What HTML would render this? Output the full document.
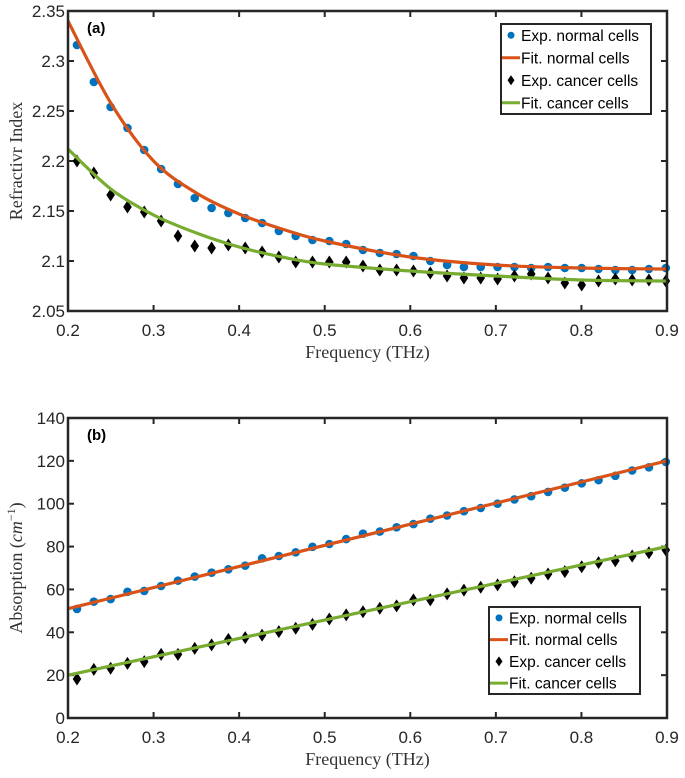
<!DOCTYPE html>
<html><head><meta charset="utf-8"><style>
body{margin:0;background:#fff;}
svg text{font-family:"Liberation Sans",Arial,sans-serif;}
.serif{font-family:"Liberation Serif","DejaVu Serif",serif !important;}
</style></head><body>
<svg id="chart" width="685" height="773" viewBox="0 0 685 773" xmlns="http://www.w3.org/2000/svg"></svg>
<script>
const freq = [];
const freqStart = 0.2105, freqStep = 0.01966;
for (let i = 0; i < 36; i++) freq.push(+(freqStart + i * freqStep).toFixed(4));
const riNormal = [2.316,2.279,2.254,2.233,2.211,2.192,2.177,2.163,2.153,2.148,2.143,2.138,2.130,2.125,2.121,2.120,
 2.117,2.111,2.108,2.107,2.105,2.100,2.096,2.094,2.094,2.094,2.094,2.093,2.094,2.093,2.093,2.092,2.091,2.091,2.092,2.093];
const riCancer = [2.200,2.188,2.166,2.154,2.149,2.140,2.125,2.115,2.113,2.116,2.113,2.109,2.104,2.099,2.099,2.099,
 2.099,2.095,2.091,2.091,2.090,2.088,2.085,2.083,2.083,2.082,2.085,2.087,2.083,2.078,2.076,2.080,2.082,2.081,2.081,2.080];
const absNormal = [50.9,54.3,55.5,58.9,59.3,61.6,64.1,66.0,67.8,69.4,71.1,74.5,75.6,77.3,79.9,81.2,
 83.5,86,87,89,90.5,93,94.5,96.5,98,100,102,103.5,105.5,107.5,109.5,111,113,115.5,117,119.5];
const absCancer = [18.2,22.7,23.2,25.5,26.3,29.7,29.7,32.5,34.1,36.7,37.5,38.7,40.3,41.9,43.7,46.2,
 48.1,49.6,51.2,52.3,55.1,55.1,57.9,59.7,61,62.1,63.6,65.2,67.2,68.3,70.6,72.5,73.4,75.6,77.1,78.4];
const fitFreq = [0.2,0.25,0.3,0.35,0.4,0.45,0.5,0.6,0.7,0.8,0.9];
const fitRiNormal = [2.340,2.258,2.200,2.168,2.147,2.132,2.120,2.104,2.096,2.093,2.092];
const fitRiCancer = [2.212,2.172,2.146,2.128,2.114,2.104,2.097,2.090,2.085,2.081,2.080];
const fitAbsFreq = [0.2,0.9];
const fitAbsNormal = [51.0,120.0];
const fitAbsCancer = [20.0,80.0];
const xTicks = [0.2,0.3,0.4,0.5,0.6,0.7,0.8,0.9];
const yTicksA = [2.05,2.1,2.15,2.2,2.25,2.3,2.35];
const yTicksB = [0,20,40,60,80,100,120,140];

const NS = 'http://www.w3.org/2000/svg';
const svg = document.getElementById('chart');
function mk(tag, attrs, parent) {
  const e = document.createElementNS(NS, tag);
  for (const k in attrs) e.setAttribute(k, attrs[k]);
  (parent || svg).appendChild(e);
  return e;
}
const L = 68, R = 667;
const xs = f => L + (f - 0.2) / 0.7 * (R - L);

function smoothPath(P) {
  if (P.length === 2) return `M${P[0][0]},${P[0][1]}L${P[1][0]},${P[1][1]}`;
  let d = `M${P[0][0].toFixed(2)},${P[0][1].toFixed(2)}`;
  for (let i = 0; i < P.length - 1; i++) {
    const p0 = P[Math.max(0, i - 1)], p1 = P[i], p2 = P[i + 1], p3 = P[Math.min(P.length - 1, i + 2)];
    const c1 = [p1[0] + (p2[0] - p0[0]) / 6, p1[1] + (p2[1] - p0[1]) / 6];
    const c2 = [p2[0] - (p3[0] - p1[0]) / 6, p2[1] - (p3[1] - p1[1]) / 6];
    d += `C${c1[0].toFixed(2)},${c1[1].toFixed(2)} ${c2[0].toFixed(2)},${c2[1].toFixed(2)} ${p2[0].toFixed(2)},${p2[1].toFixed(2)}`;
  }
  return d;
}

function panel(cfg) {
  const g = mk('g', {});
  
  
  const ys = v => cfg.bot - (v - cfg.ymin) / (cfg.ymax - cfg.ymin) * (cfg.bot - cfg.top);
  xTicks.forEach(t => {
    const x = xs(t);
    mk('line', {x1:x, x2:x, y1:cfg.bot, y2:cfg.bot-6, stroke:'#262626','stroke-width':2}, g);
    mk('line', {x1:x, x2:x, y1:cfg.top, y2:cfg.top+6, stroke:'#262626','stroke-width':2}, g);
    const tx = mk('text', {x:x, y:cfg.bot+25, 'text-anchor':'middle','font-size':17, fill:'#262626'}, g);
    tx.textContent = t.toFixed(1);
    
    
  });
  cfg.yTicks.forEach(t => {
    const y = ys(t);
    mk('line', {x1:L, x2:L+6, y1:y, y2:y, stroke:'#262626','stroke-width':2}, g);
    mk('line', {x1:R, x2:R-6, y1:y, y2:y, stroke:'#262626','stroke-width':2}, g);
    const tx = mk('text', {x:L-3, y:y+6, 'text-anchor':'end','font-size':17, fill:'#262626'}, g);
    tx.textContent = cfg.fmt(t);
    
    
  });
  function fitPath(fx, fy, color, name) {
    const P = fx.map((f, i) => [xs(f), ys(fy[i])]);
    const p = mk('path', {d:smoothPath(P), fill:'none', stroke:color, 'stroke-width':3.2}, g);
    
    
  }
  function pts(vals, kind, name) {
    const pg = mk('g', {}, g);
    
    
    vals.forEach((v, i) => {
      const x = xs(freq[i]), y = ys(v);
      let e;
      if (kind === 'dot') e = mk('circle', {cx:x, cy:y, r:4.3, fill:'#0072BD'}, pg);
      else e = mk('polygon', {points:`${x},${y-6.5} ${x+4.3},${y} ${x},${y+6.5} ${x-4.3},${y}`, fill:'#000'}, pg);
      
      
    });
  }
  pts(cfg.nVals, 'dot', 'exp-normal-points');
  fitPath(cfg.fitX, cfg.nFit, '#D95319', 'fit-normal-line');
  pts(cfg.cVals, 'diamond', 'exp-cancer-points');
  fitPath(cfg.fitX, cfg.cFit, '#77AC30', 'fit-cancer-line');
  mk('rect', {x:L, y:cfg.top, width:R-L, height:cfg.bot-cfg.top, fill:'none', stroke:'#262626','stroke-width':2.5}, g);
  const pl = mk('text', {x:87, y:cfg.top+22, 'font-size':15, 'font-weight':'bold', fill:'#000'}, g);
  pl.textContent = cfg.label;
  
  
  const xt = mk('text', {x:(L+R)/2, y:cfg.bot+47, 'text-anchor':'middle','font-size':18, fill:'#333', class:'serif'}, g);
  xt.textContent = 'Frequency (THz)';
  
  
  const yt = mk('text', {x:0, y:0, 'text-anchor':'middle','font-size':18, fill:'#333', class:'serif', transform:`translate(22,${(cfg.top+cfg.bot)/2}) rotate(-90)`}, g);
  if (cfg.yHtml) {
    const a = mk('tspan', {}, yt); a.textContent = 'Absorption (';
    const b = mk('tspan', {'font-style':'italic'}, yt); b.textContent = 'cm';
    const c = mk('tspan', {'font-size':12, dy:-7}, yt); c.textContent = '−1';
    const d = mk('tspan', {dy:7}, yt); d.textContent = ')';
  } else yt.textContent = cfg.yTitle;
  
  
  const lg = mk('g', {}, g);
  
  
  const [lx, ly, lw, lh] = cfg.legend;
  mk('rect', {x:lx, y:ly, width:lw, height:lh, fill:'#fff', stroke:'#262626','stroke-width':2}, lg);
  const items = [['dot','Exp. normal cells'],['line-n','Fit. normal cells'],['dia','Exp. cancer cells'],['line-c','Fit. cancer cells']];
  const rh = lh / 4;
  items.forEach((it, i) => {
    const cy = ly + rh * (i + 0.5);
    const eg = mk('g', {}, lg);
    
    
    if (it[0] === 'dot') mk('circle', {cx:lx+10, cy:cy, r:3.5, fill:'#0072BD'}, eg);
    if (it[0] === 'dia') mk('polygon', {points:`${lx+10},${cy-5} ${lx+13.5},${cy} ${lx+10},${cy+5} ${lx+6.5},${cy}`, fill:'#000'}, eg);
    if (it[0] === 'line-n') mk('line', {x1:lx+1, x2:lx+19, y1:cy, y2:cy, stroke:'#D95319','stroke-width':3}, eg);
    if (it[0] === 'line-c') mk('line', {x1:lx+1, x2:lx+19, y1:cy, y2:cy, stroke:'#77AC30','stroke-width':3}, eg);
    const t = mk('text', {x:lx+20, y:cy+5.5, 'font-size':15.5, fill:'#000'}, eg);
    t.textContent = it[1];
  });
}

panel({name:'refractive-index-panel', top:11, bot:311, ymin:2.05, ymax:2.35, yTicks:yTicksA,
  fmt:t => String(+t.toFixed(2)), nVals:riNormal, cVals:riCancer,
  fitX:fitFreq, nFit:fitRiNormal, cFit:fitRiCancer,
  label:'(a)', yTitle:'Refractivr Index', legend:[501,24,150,90]});
panel({name:'absorption-panel', top:418, bot:718, ymin:0, ymax:140, yTicks:yTicksB,
  fmt:t => String(t), nVals:absNormal, cVals:absCancer,
  fitX:fitAbsFreq, nFit:fitAbsNormal, cFit:fitAbsCancer,
  label:'(b)', yHtml:true, legend:[489,607,151,87]});
</script>
</body></html>
